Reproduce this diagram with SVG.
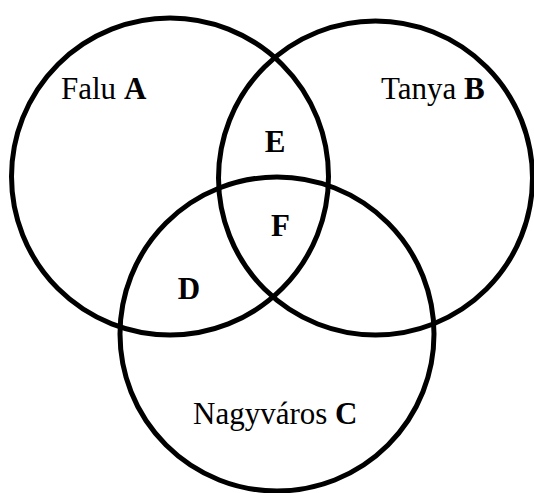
<svg xmlns="http://www.w3.org/2000/svg" width="534" height="493" viewBox="0 0 534 493">
<style>
.c{fill:none;stroke:#000;stroke-width:5}
text{font-family:"Liberation Serif","Times New Roman",serif;font-size:31px;fill:#000}
.b{font-weight:bold}
</style>
<rect width="534" height="493" fill="#fff"/>
<g id="circleA"><circle class="c" cx="170" cy="176.5" r="158.5"/><text x="61" y="99">Falu <tspan class="b">A</tspan></text></g>
<g id="circleB"><circle class="c" cx="375.5" cy="178" r="157"/><text x="381" y="99">Tanya <tspan class="b">B</tspan></text></g>
<g id="circleC"><circle class="c" cx="277" cy="334" r="157"/><text x="193" y="424">Nagyváros <tspan class="b">C</tspan></text></g>
<g id="regionE"><text class="b" x="275" y="152" text-anchor="middle">E</text></g>
<g id="regionF"><text class="b" x="280.5" y="236" text-anchor="middle">F</text></g>
<g id="regionD"><text class="b" x="189" y="299" text-anchor="middle">D</text></g>
<g id="connectors"></g>
</svg>
